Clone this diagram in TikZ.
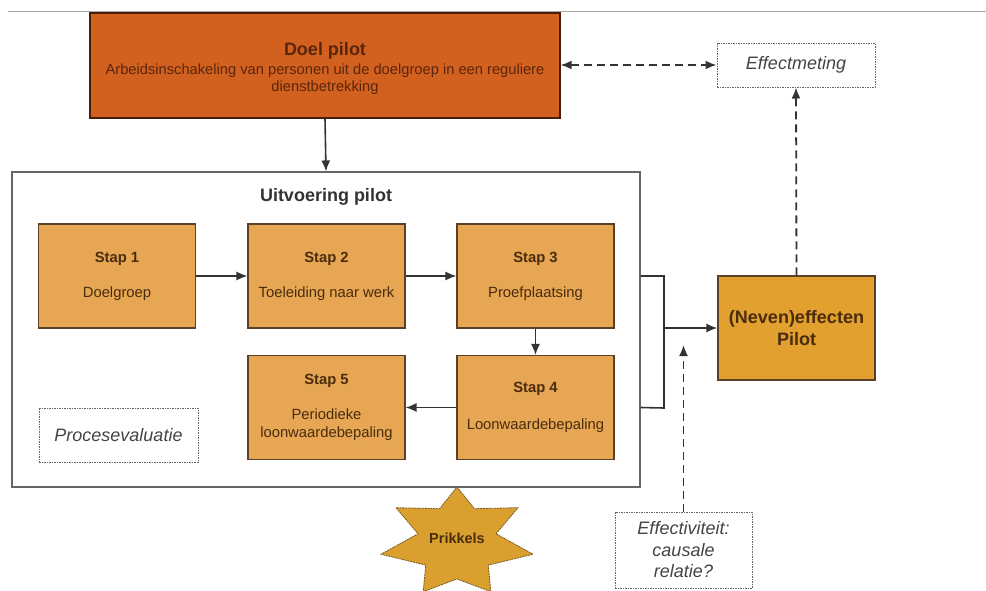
\documentclass[tikz,border=0pt]{standalone}
\usepackage{fontspec}
\setmainfont{Liberation Sans}
\usetikzlibrary{arrows.meta}
\definecolor{doelfill}{HTML}{D2601E}
\definecolor{doeltext}{HTML}{5A260C}
\definecolor{stapfill}{HTML}{E6A653}
\definecolor{stapdraw}{HTML}{5C4028}
\definecolor{boxtext}{HTML}{4A2C0E}
\definecolor{nevenfill}{HTML}{E2A02E}
\definecolor{starfill}{HTML}{D9A030}
\definecolor{stardraw}{HTML}{7A5A22}
\definecolor{linecol}{HTML}{333333}
\definecolor{dotcol}{HTML}{666666}
\definecolor{ittext}{HTML}{444444}
\tikzset{
  stapbox/.style={draw=stapdraw, line width=1.1pt, fill=stapfill, minimum width=157pt, minimum height=104pt,
    inner sep=0pt, align=center, text=boxtext, font=\fontsize{14.8}{18}\selectfont},
  dotbox/.style={draw=dotcol, line width=1pt, dash pattern=on 1.5pt off 1pt, fill=white, inner sep=0pt,
    align=center, text=ittext, font=\fontsize{18}{21.5}\selectfont\itshape},
  conn/.style={draw=linecol, line width=1.6pt, -{Latex[length=11pt,width=9pt]}},
  plainline/.style={draw=linecol, line width=1.6pt},
  dashconn/.style={draw=linecol, line width=1.8pt, dash pattern=on 8pt off 5pt, -{Latex[length=11pt,width=9pt]}},
}
\begin{document}
\begin{tikzpicture}[x=1pt,y=-1pt]
\useasboundingbox (0,0) rectangle (986,590);
\clip (0,0) rectangle (986,590);
\fill[white] (0,0) rectangle (986,590);
% top rule
\draw[draw=gray!70, line width=1pt] (8,11) -- (986,11);
% goal box
\node[draw=doeltext!80!black, line width=1.3pt, fill=doelfill, minimum width=470pt, minimum height=105pt,
  inner sep=0pt] (doel) at (325,65.5) {};
\node[inner sep=0pt, align=center, text=doeltext, font=\fontsize{14.7}{17}\selectfont] (doeltxt) at (325,68.5)
  {\fontsize{18}{20}\selectfont\bfseries Doel pilot\\[1.5pt]
   \fontsize{14.7}{17}\selectfont\mdseries Arbeidsinschakeling van personen uit de doelgroep in een reguliere\\dienstbetrekking};
% effect measurement
\node[dotbox, minimum width=158pt, minimum height=44pt] (effm) at (796,65) {Effectmeting};
% outer execution box
\node[draw=gray!80!black, line width=1.1pt, fill=white, minimum width=628pt, minimum height=315pt, inner sep=0pt] (outer) at (326,329.5) {};
\node[font=\fontsize{18}{20}\selectfont\bfseries, text=black!80, inner sep=0pt] (uitv) at (326,197) {Uitvoering pilot};
% steps
\node[stapbox] (s1) at (117,276) {\textbf{Stap 1}\\[17pt]Doelgroep};
\node[stapbox] (s2) at (326.5,276) {\textbf{Stap 2}\\[17pt]Toeleiding naar werk};
\node[stapbox] (s3) at (535.5,276) {\textbf{Stap 3}\\[17pt]Proefplaatsing};
\node[stapbox] (s4) at (535.5,407.5) {\textbf{Stap 4}\\[19pt]Loonwaardebepaling};
\node[stapbox] (s5) at (326.5,407.5) {\textbf{Stap 5}\\[17pt]Periodieke\\loonwaardebepaling};
\node[dotbox, minimum width=159pt, minimum height=54pt] (proc) at (118.5,435) {Procesevaluatie};
% side effects
\node[draw=stapdraw, line width=1.1pt, fill=nevenfill, minimum width=157pt, minimum height=104pt, inner sep=0pt,
  align=center, text=boxtext, font=\fontsize{18}{22}\selectfont\bfseries] (neven) at (796.5,328) {(Neven)effecten\\Pilot};
% effectiveness
\node[dotbox, minimum width=137pt, minimum height=76pt] (effv) at (683.5,550) {Effectiviteit:\\causale\\relatie?};
% star
\draw[fill=starfill, draw=stardraw, line width=0.8pt, dash pattern=on 2pt off 0.8pt]
  (457,487) -- (474.4,508.7) -- (518,507.7) -- (496,533.8) -- (533,554.2) -- (488.3,565.1) -- (490.8,591.6)
  -- (457,579) -- (423.2,591.6) -- (425.7,565.1) -- (381,554.2) -- (418,533.8) -- (396,507.7) -- (439.6,508.7) -- cycle;
\node[font=\fontsize{14.5}{16}\selectfont\bfseries, text=boxtext, inner sep=0pt] (prik) at (457,538) {Prikkels};
% connectors
\draw[conn] (doel.south) -- (outer.north);
\draw[conn] (s1.east) -- (s2.west);
\draw[conn] (s2.east) -- (s3.west);
\draw[conn] (s3.south) -- (s4.north);
\draw[conn] (s4.west) -- (s5.east);
\coordinate (bt) at (664,276);
\coordinate (bb) at (664,408);
\coordinate (bm) at (664,328);
\draw[plainline] (outer.east |- s3.east) -- (bt) -- (bb) -- (outer.east |- s4.east);
\draw[conn] (bm) -- (neven.west);
\draw[dashconn, {Latex[length=11pt,width=9pt]}-{Latex[length=11pt,width=9pt]}] (doel.east |- effm.west) -- (effm.west);
\draw[dashconn] (neven.north) -- (effm.south);
\coordinate (effvtip) at (683.5,345);
\draw[dashconn] (effv.north) -- (effvtip);
\end{tikzpicture}
\end{document}
